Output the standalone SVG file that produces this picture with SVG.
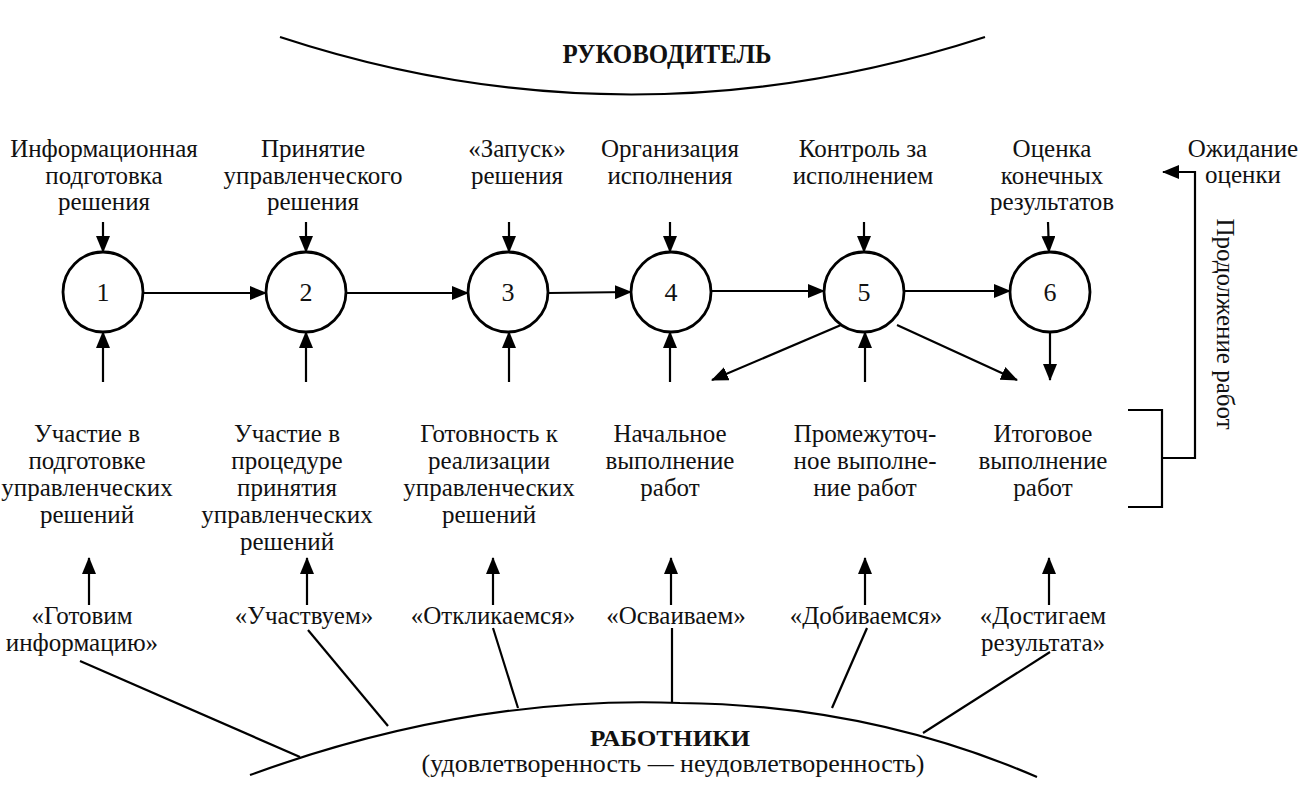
<svg xmlns="http://www.w3.org/2000/svg" width="1305" height="788" viewBox="0 0 1305 788">
<defs>
<marker id="ah" markerWidth="17" markerHeight="14" refX="16" refY="7" orient="auto" markerUnits="userSpaceOnUse"><path d="M0,0 L17,7 L0,14 z" fill="#000"/></marker>
<style>
.t{font-family:"Liberation Serif","Times New Roman",serif;font-size:25px;fill:#111;text-anchor:middle}
.b{font-family:"Liberation Serif","Times New Roman",serif;font-weight:bold;fill:#111;text-anchor:middle}
.n{font-family:"Liberation Serif","Times New Roman",serif;font-size:26px;fill:#111;text-anchor:middle}
.c{fill:#fff;stroke:#000;stroke-width:2.8}
.l{fill:none;stroke:#000;stroke-width:2.2}
.a{fill:none;stroke:#000;stroke-width:2.2;marker-end:url(#ah)}
</style>
</defs>
<rect width="1305" height="788" fill="#fff"/>

<g id="rukovoditel">
<path class="l" d="M280,37 Q630,152 985,37" stroke-width="3"/>
<text class="b" x="667" y="63" font-size="27" textLength="209" lengthAdjust="spacingAndGlyphs">РУКОВОДИТЕЛЬ</text>
</g>

<g id="rabotniki">
<path class="l" d="M250,775 Q470,695 680,703 Q870,705 1037,777" stroke-width="3"/>
<text class="b" x="670" y="746" font-size="24" textLength="160" lengthAdjust="spacingAndGlyphs">РАБОТНИКИ</text>
<text class="t" x="673" y="772" textLength="503" lengthAdjust="spacingAndGlyphs">(удовлетворенность — неудовлетворенность)</text>
</g>

<g id="node1">
<circle class="c" cx="103" cy="292" r="40"/>
<text class="n" x="103" y="301">1</text>
<text class="t" y="157"><tspan x="104">Информационная</tspan><tspan x="104" dy="27">подготовка</tspan><tspan x="104" dy="26">решения</tspan></text>
<text class="t" y="442"><tspan x="87">Участие в</tspan><tspan x="87" dy="27">подготовке</tspan><tspan x="87" dy="27">управленческих</tspan><tspan x="87" dy="27">решений</tspan></text>
<text class="t" y="624"><tspan x="82">«Готовим</tspan><tspan x="82" dy="27">информацию»</tspan></text>
</g>

<g id="node2">
<circle class="c" cx="306" cy="292" r="40"/>
<text class="n" x="306" y="301">2</text>
<text class="t" y="157"><tspan x="313">Принятие</tspan><tspan x="313" dy="27">управленческого</tspan><tspan x="313" dy="26">решения</tspan></text>
<text class="t" y="442"><tspan x="287">Участие в</tspan><tspan x="287" dy="27">процедуре</tspan><tspan x="287" dy="27">принятия</tspan><tspan x="287" dy="27">управленческих</tspan><tspan x="287" dy="27">решений</tspan></text>
<text class="t" x="304" y="624">«Участвуем»</text>
</g>

<g id="node3">
<circle class="c" cx="508" cy="292" r="40"/>
<text class="n" x="508" y="301">3</text>
<text class="t" y="157"><tspan x="517">«Запуск»</tspan><tspan x="517" dy="27">решения</tspan></text>
<text class="t" y="442"><tspan x="489">Готовность к</tspan><tspan x="489" dy="27">реализации</tspan><tspan x="489" dy="27">управленческих</tspan><tspan x="489" dy="27">решений</tspan></text>
<text class="t" x="493" y="624">«Откликаемся»</text>
</g>

<g id="node4">
<circle class="c" cx="671" cy="292" r="40"/>
<text class="n" x="671" y="301">4</text>
<text class="t" y="157"><tspan x="670">Организация</tspan><tspan x="670" dy="27">исполнения</tspan></text>
<text class="t" y="442"><tspan x="670">Начальное</tspan><tspan x="670" dy="27">выполнение</tspan><tspan x="670" dy="27">работ</tspan></text>
<text class="t" x="676" y="624">«Осваиваем»</text>
</g>

<g id="node5">
<circle class="c" cx="864" cy="292" r="40"/>
<text class="n" x="864" y="301">5</text>
<text class="t" y="157"><tspan x="863">Контроль за</tspan><tspan x="863" dy="27">исполнением</tspan></text>
<text class="t" y="442"><tspan x="865">Промежуточ-</tspan><tspan x="865" dy="27">ное выполне-</tspan><tspan x="865" dy="27">ние работ</tspan></text>
<text class="t" x="866" y="624">«Добиваемся»</text>
</g>

<g id="node6">
<circle class="c" cx="1050" cy="292" r="40"/>
<text class="n" x="1050" y="301">6</text>
<text class="t" y="157"><tspan x="1052">Оценка</tspan><tspan x="1052" dy="27">конечных</tspan><tspan x="1052" dy="26">результатов</tspan></text>
<text class="t" y="442"><tspan x="1043">Итоговое</tspan><tspan x="1043" dy="27">выполнение</tspan><tspan x="1043" dy="27">работ</tspan></text>
<text class="t" y="624"><tspan x="1043">«Достигаем</tspan><tspan x="1043" dy="27">результата»</tspan></text>
</g>

<g id="ozhidanie">
<text class="t" y="157"><tspan x="1243">Ожидание</tspan><tspan x="1243" dy="26">оценки</tspan></text>
</g>

<g id="prodolzhenie">
<text class="t" font-size="26" transform="translate(1217 324) rotate(90)" x="0" y="0">Продолжение работ</text>
</g>

<g id="connectors">
<line class="a" x1="103" y1="222" x2="103" y2="252"/>
<line class="a" x1="306" y1="222" x2="306" y2="252"/>
<line class="a" x1="509" y1="222" x2="509" y2="252"/>
<line class="a" x1="670" y1="222" x2="670" y2="252"/>
<line class="a" x1="864" y1="222" x2="864" y2="252"/>
<line class="a" x1="1048" y1="222" x2="1049" y2="252"/>
<line class="a" x1="103" y1="382" x2="103" y2="332"/>
<line class="a" x1="306" y1="382" x2="306" y2="332"/>
<line class="a" x1="509" y1="382" x2="509" y2="332"/>
<line class="a" x1="670" y1="382" x2="670" y2="332"/>
<line class="a" x1="865" y1="382" x2="865" y2="332"/>
<line class="a" x1="144" y1="293" x2="266" y2="293"/>
<line class="a" x1="347" y1="293" x2="468" y2="293"/>
<line class="a" x1="549" y1="293" x2="631" y2="292"/>
<line class="a" x1="712" y1="291" x2="824" y2="291"/>
<line class="a" x1="905" y1="291" x2="1010" y2="291"/>
<line class="a" x1="1050" y1="332" x2="1050" y2="380"/>
<line class="a" x1="841" y1="325" x2="712" y2="380"/>
<line class="a" x1="897" y1="325" x2="1017" y2="380"/>
<line class="a" x1="89" y1="605" x2="89" y2="558"/>
<line class="a" x1="307" y1="605" x2="307" y2="558"/>
<line class="a" x1="493" y1="605" x2="493" y2="558"/>
<line class="a" x1="671" y1="605" x2="671" y2="558"/>
<line class="a" x1="865" y1="605" x2="865" y2="558"/>
<line class="a" x1="1049" y1="605" x2="1049" y2="558"/>
<line class="l" x1="80" y1="661" x2="300" y2="757"/>
<line class="l" x1="308" y1="630" x2="388" y2="726"/>
<line class="l" x1="493" y1="628" x2="518" y2="708"/>
<line class="l" x1="672" y1="628" x2="672" y2="703"/>
<line class="l" x1="867" y1="628" x2="832" y2="708"/>
<line class="l" x1="1050" y1="652" x2="923" y2="733"/>
<polyline class="l" points="1128,410 1162,410 1162,507 1128,507"/>
<polyline class="a" points="1162,458 1195,458 1195,172 1163,172"/>
</g>
</svg>
